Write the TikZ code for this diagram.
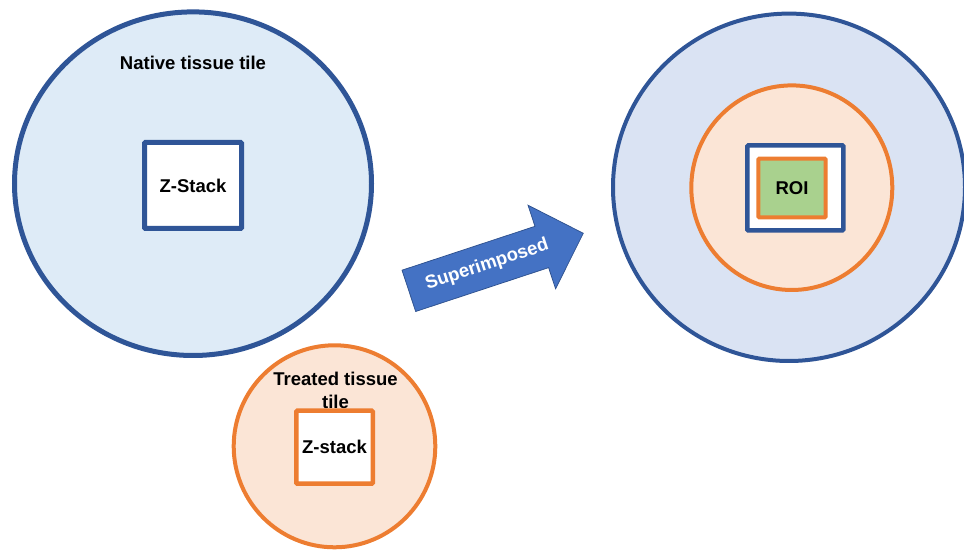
\documentclass[tikz,border=0pt]{standalone}
\usepackage{fontspec}
\setmainfont{Liberation Sans}
\usetikzlibrary{shapes.geometric}
\definecolor{dkblue}{HTML}{2F5597}
\definecolor{ltblueA}{HTML}{DEEBF7}
\definecolor{ltblueB}{HTML}{DAE3F3}
\definecolor{orng}{HTML}{ED7D31}
\definecolor{orngfill}{HTML}{FBE5D6}
\definecolor{grn}{HTML}{A9D18E}
\definecolor{arrowblue}{HTML}{4472C4}
\definecolor{arrowedge}{HTML}{2F528F}
\tikzset{
  lbl/.style={font=\fontsize{18.5}{23}\selectfont\bfseries, text=black, inner sep=0pt, align=center},
  tile/.style={ellipse, inner sep=0pt},
  stackbox/.style={rectangle, inner sep=0pt, fill=white, rounded corners=1pt, font=\fontsize{18.5}{23}\selectfont\bfseries},
}
\begin{document}
\begin{tikzpicture}[x=1pt,y=1pt]
\useasboundingbox (0,0) rectangle (964,553);
% left: native tissue tile
\node[tile, draw=dkblue, fill=ltblueA, line width=5pt, minimum width=357pt, minimum height=343.6pt] (native) at (193,369.3) {};
\node[lbl] (nativelbl) at (193,489.7) {Native tissue tile};
\node[stackbox, draw=dkblue, line width=5pt, minimum width=97pt, minimum height=86pt] (zstackA) at (193,367.5) {Z-Stack};
% bottom: treated tissue tile
\node[tile, draw=orng, fill=orngfill, line width=4pt, minimum width=201.6pt, minimum height=202pt] (treated) at (334.5,106.7) {};
\node[lbl] (treatedlbl) at (335.5,163) {Treated tissue\\tile};
\node[stackbox, draw=orng, line width=4.5pt, minimum width=76.5pt, minimum height=73pt] (zstackB) at (334.5,105.8) {Z-stack};
% right: superimposed
\node[tile, draw=dkblue, fill=ltblueB, line width=4pt, minimum width=352pt, minimum height=347.4pt] (merged) at (789,365.7) {};
\node[tile, draw=orng, fill=orngfill, line width=4pt, minimum width=201pt, minimum height=204.6pt] (mergedinner) at (791.8,365.3) {};
\node[stackbox, draw=dkblue, line width=4.5pt, minimum width=96pt, minimum height=85pt] (mergedbox) at (795.3,365) {};
\node[stackbox, draw=orng, fill=grn, line width=4pt, minimum width=67.4pt, minimum height=58.6pt] (roi) at (792,365) {ROI};
% arrow
\begin{scope}[shift={(408.85,262.15)}, rotate=18.26]
  \coordinate (tail) at (0,0);
  \coordinate (tip) at (183.7,0);
  \fill[arrowblue, draw=arrowedge, line width=0.75pt, line join=miter]
    (0,-21.75) -- (140,-21.75) -- (140,-44) -- (tip) -- (140,44) -- (140,21.75) -- (0,21.75) -- cycle;
  \node[lbl, text=white, rotate=18.26] (suplbl) at (82.5,0) {Superimposed};
\end{scope}
\end{tikzpicture}
\end{document}
